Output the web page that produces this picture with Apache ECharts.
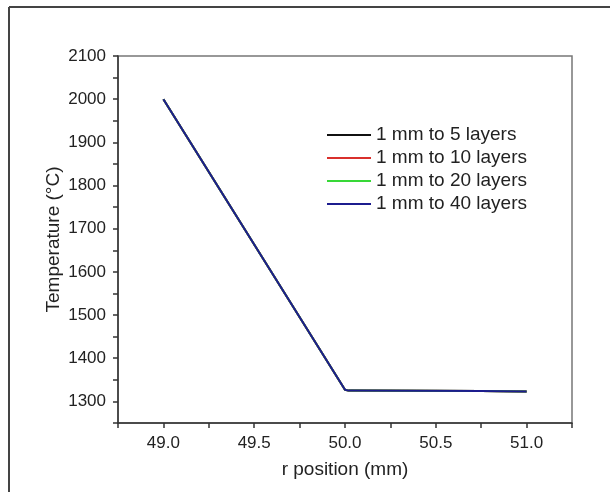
<!DOCTYPE html>
<html>
<head>
<meta charset="utf-8">
<script src="https://cdn.jsdelivr.net/npm/echarts@6/dist/echarts.min.js"></script>
<style>
    html, body { margin: 0; padding: 0; background: #fff; }
    #chart { width: 610px; height: 492px; }
</style>
</head>
<body>
<div id="chart"></div>
<script>
// r position (mm) and temperature (°C)
const rPos = [49.0, 50.0, 50.02, 50.75, 51.0];
const temp5 = [2000, 1327, 1325, 1324, 1323];
const temp10 = [2000, 1327, 1325, 1324, 1323];
const temp20 = [2000, 1327, 1325, 1324, 1323];
const temp40 = [2000, 1327, 1325, 1324, 1323];
const seriesNames = ['1 mm to 5 layers', '1 mm to 10 layers', '1 mm to 20 layers', '1 mm to 40 layers'];
const seriesColors = ['#111111', '#d9302c', '#38d838', '#1c1c8e'];

const font = 'Liberation Sans, Arial, sans-serif';
const chart = echarts.init(document.getElementById('chart'));

function pairs(ys) {
    return rPos.map((x, i) => [x, ys[i]]);
}

const allTemps = [temp5, temp10, temp20, temp40];

chart.setOption({
    animation: false,
    textStyle: { fontFamily: font },
    graphic: [
        { type: 'line', shape: { x1: 9, y1: 7, x2: 610, y2: 7 }, style: { stroke: '#444', lineWidth: 2 } },
        { type: 'line', shape: { x1: 9, y1: 7, x2: 9, y2: 492 }, style: { stroke: '#444', lineWidth: 2 } }
    ],
    grid: {
        left: 118, top: 56, right: 38, bottom: 69,
        show: true, borderColor: '#777', borderWidth: 1.5
    },
    legend: {
        orient: 'vertical',
        left: 327, top: 125, padding: 0,
        itemWidth: 44, itemHeight: 2,
        itemGap: 3,
        icon: 'rect',
        textStyle: { fontSize: 19, color: '#222', lineHeight: 20, fontFamily: font },
        data: seriesNames
    },
    xAxis: {
        type: 'value',
        min: 48.75, max: 51.25, interval: 0.25,
        name: 'r position (mm)',
        nameLocation: 'middle', nameGap: 37,
        nameTextStyle: { fontSize: 19, color: '#222' },
        axisLine: { lineStyle: { color: '#333', width: 1.5 } },
        axisTick: { length: 5, lineStyle: { color: '#333', width: 1.5 } },
        axisLabel: {
            fontSize: 17, color: '#222', margin: 12,
            formatter: v => (Math.abs(v * 2 - Math.round(v * 2)) < 1e-6 ? v.toFixed(1) : '')
        },
        splitLine: { show: false }
    },
    yAxis: {
        type: 'value',
        min: 1250, max: 2100, interval: 50,
        name: 'Temperature (°C)',
        nameLocation: 'middle', nameGap: 55,
        nameMoveOverlap: false,
        nameTextStyle: { fontSize: 19, color: '#222' },
        axisLine: { show: true, lineStyle: { color: '#333', width: 1.5 } },
        axisTick: { show: true, length: 5, lineStyle: { color: '#333', width: 1.5 } },
        axisLabel: {
            fontSize: 17, color: '#222', margin: 12,
            formatter: v => (v % 100 === 0 ? String(v) : '')
        },
        splitLine: { show: false }
    },
    series: seriesNames.map((name, i) => ({
        name: name,
        type: 'line',
        data: pairs(allTemps[i]),
        symbol: 'none',
        lineStyle: { color: seriesColors[i], width: 2 },
        itemStyle: { color: seriesColors[i] }
    }))
});
</script>
</body>
</html>
